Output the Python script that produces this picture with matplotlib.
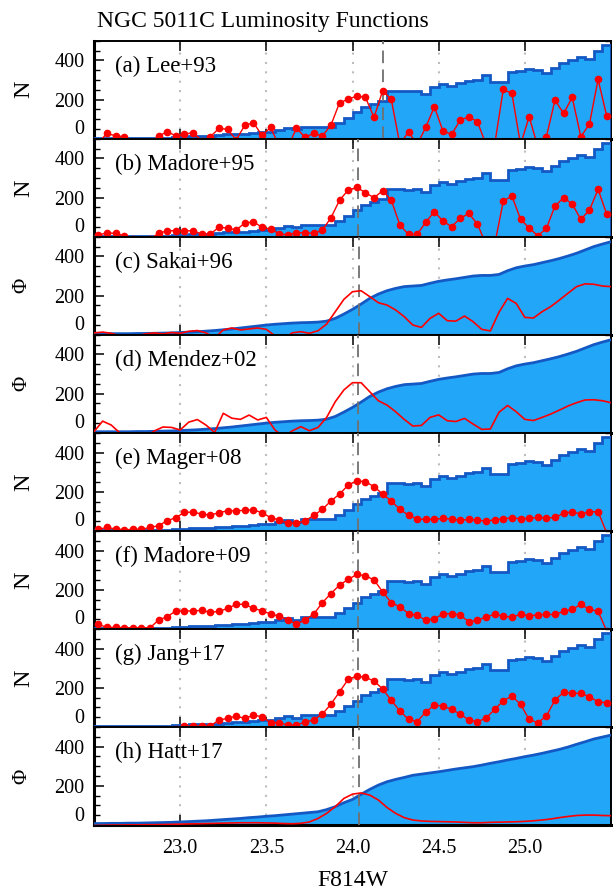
import numpy as np
import matplotlib
matplotlib.use("Agg")
import matplotlib.pyplot as plt
from matplotlib.ticker import MultipleLocator

plt.rcParams['font.family'] = ['Liberation Serif', 'DejaVu Serif']

# histogram of F814W (0.05 mag bins, left edges from 22.50)
hist_lo = 22.50
hist_w = 0.05
hist_n = [3, 5, 5, 3, 3, 3, 3, 3, 5, 8,
          10, 15, 15, 15, 18, 22, 25, 25, 30, 35,
          36, 45, 55, 48, 61, 61, 61, 62, 81, 107,
          135, 161, 178, 192, 246, 245, 241, 246, 229, 263,
          280, 268, 282, 297, 302, 323, 289, 289, 341, 348,
          357, 353, 336, 362, 387, 404, 416, 408, 450, 480]

# smoothed luminosity functions, sampled every 0.05 mag from 22.50 to 25.50
phi_sakai = [6, 6, 6, 6, 6, 7, 7, 8, 9, 10,
             12, 14, 16, 19, 22, 26, 30, 35, 40, 45,
             50, 54, 57, 60, 62, 63, 65, 70, 84, 106,
             130, 157, 186, 208, 225, 237, 246, 249, 252, 263,
             273, 280, 286, 293, 300, 303, 303, 308, 327, 342,
             351, 358, 368, 378, 389, 402, 416, 433, 450, 463, 475]
phi_hatt = [8, 8, 9, 9, 10, 10, 11, 12, 13, 14,
            16, 18, 20, 22, 25, 28, 31, 34, 38, 41,
            45, 48, 52, 56, 60, 64, 68, 79, 94, 114,
            131, 157, 182, 204, 221, 233, 243, 254, 260, 266,
            272, 279, 286, 292, 298, 306, 315, 323, 332, 340,
            349, 357, 366, 376, 386, 398, 412, 425, 439, 449, 459]

# edge-detection responses on the same 0.05 mag grid
edge_sakai = [10, 14, 8, -5, -10, -5, 5, 10, 5, 12,
              8, 18, 22, 10, -15, 25, 35, 25, 30, 35,
              28, -5, -20, 10, 16, 8, 21, 55, 118, 181,
              220, 225, 195, 164, 152, 127, 93, 50, 38, 84,
              110, 72, 70, 96, 67, 28, 20, 115, 186, 160,
              89, 86, 118, 144, 177, 212, 246, 260, 258, 249, 246]
edge_mendez = [6, 60, 40, 0, -30, -30, -20, 10, 30, 28,
               15, 55, 68, 40, 2, 100, 75, 69, 91, 66,
               79, 15, -20, 10, 32, 11, 28, 79, 159, 219,
               256, 256, 210, 164, 142, 108, 69, 35, 38, 79,
               92, 62, 58, 74, 45, 18, 20, 105, 140, 108,
               69, 63, 79, 96, 116, 137, 154, 168, 169, 164, 154]
edge_hatt = [-2, -1, 0, 0, 1, 1, 2, 2, 3, 4,
             5, 6, 7, 8, 9, 10, 11, 12, 12, 12,
             11, 10, 8, 7, 9, 16, 34, 60, 94, 136,
             158, 164, 153, 128, 90, 60, 38, 26, 21, 19,
             18, 17, 16, 14, 12, 12, 14, 15, 16, 17,
             19, 22, 26, 31, 38, 44, 49, 51, 51, 49, 48]

# binned edge responses at bin centres (22.525 ... 25.475)
edge_lee = [-20, 27, 15, 10, -30, -30, -20, 14, 36, 15,
            24, 31, -10, 10, 53, 48, -5, 68, 82, 17,
            58, -40, -40, 53, 8, 27, 14, 70, 184, 201,
            218, 211, 109, 245, 201, -30, 36, -30, 58, 163,
            39, 22, 95, 112, 87, -30, -30, 252, 231, -30,
            112, -40, 10, 197, 129, 211, 10, 75, 303, 116]
edge_madore95 = [8, 21, 17, 5, -10, -20, -10, 17, 31, 31,
                 31, 31, 14, 14, 49, 44, 35, 70, 76, 49,
                 39, 15, 10, 21, 21, 17, 34, 97, 187, 238,
                 252, 225, 199, 235, 187, 60, 12, 12, 74, 128,
                 80, 52, 94, 119, 65, -40, -40, 182, 208, 90,
                 45, 5, 43, 157, 199, 167, 89, 136, 242, 116]
edge_mager = [8, 18, 10, 6, 8, 8, 18, 27, 52, 68,
              95, 96, 86, 81, 93, 103, 103, 105, 108, 93,
              68, 56, 39, 39, 52, 79, 110, 153, 188, 234,
              256, 251, 226, 188, 153, 110, 81, 61, 59, 59,
              64, 61, 54, 59, 54, 51, 56, 63, 66, 63,
              64, 69, 66, 69, 90, 98, 86, 98, 98, -10]
edge_madore09 = [24, 8, 8, 6, 6, 6, 6, 46, 63, 92,
                 92, 92, 95, 85, 90, 105, 126, 126, 105, 93,
                 76, 66, 46, 24, 47, 76, 134, 181, 224, 253,
                 278, 272, 250, 190, 134, 113, 79, 69, 46, 52,
                 76, 79, 71, 37, 44, 62, 74, 66, 59, 76,
                 66, 73, 74, 74, 90, 100, 125, 100, 90, -10]
edge_jang = [-20, -20, -20, -20, -20, -20, -20, -20, -20, -10,
             5, 5, 5, 5, 36, 44, 56, 44, 60, 53,
             22, 22, 10, 10, 26, 36, 66, 117, 180, 243,
             260, 253, 235, 194, 136, 82, 39, 27, 77, 112,
             107, 90, 66, 36, 27, 46, 90, 134, 158, 116,
             39, 22, 56, 138, 177, 172, 172, 155, 128, 124]

panel_labels = ['(a) Lee+93', '(b) Madore+95', '(c) Sakai+96', '(d) Mendez+02',
                '(e) Mager+08', '(f) Madore+09', '(g) Jang+17', '(h) Hatt+17']
panel_kind = ['N', 'N', 'Phi', 'Phi', 'N', 'N', 'N', 'Phi']
panel_edge = [edge_lee, edge_madore95, edge_sakai, edge_mendez,
              edge_mager, edge_madore09, edge_jang, edge_hatt]
panel_phi = [None, None, phi_sakai, phi_sakai, None, None, None, phi_hatt]
trgb = [24.175, 24.03, 24.035, 24.03, 24.03, 24.03, 24.03, 24.04]
guide_x = [23.0, 23.5, 24.0, 24.5, 25.0]

edges = hist_lo + hist_w * np.arange(len(hist_n) + 1)
centres = edges[:-1] + hist_w / 2
grid = hist_lo + hist_w * np.arange(len(phi_sakai))

fill_c = '#22a6f8'
line_c = '#1458c4'

W, H = 613, 891
fig = plt.figure(figsize=(W / 100, H / 100), dpi=100)
left, right = 94, 611
top = 40.7
ph = 98.05

for i in range(8):
    y0 = top + i * ph
    ax = fig.add_axes([left / W, 1 - (y0 + ph) / H, (right - left) / W, ph / H])
    ax.set_xlim(22.5, 25.5)
    ax.set_ylim(0, 500)

    for gx in guide_x:
        ax.axvline(gx, color='#bdbdbd', ls=(0, (1, 3.5)), lw=1.5, zorder=1)

    if panel_kind[i] == 'N':
        ax.stairs(hist_n, edges, fill=True, color=fill_c, zorder=2)
        ax.stairs(hist_n, edges, color=line_c, lw=2, zorder=3)
        ax.plot(centres, panel_edge[i], color='red', lw=1, marker='o', ms=4.5,
                zorder=6)
    else:
        ax.fill_between(grid, panel_phi[i], 0, color=fill_c, lw=0, zorder=2)
        ax.plot(grid, panel_phi[i], color=line_c, lw=2, zorder=3)
        ax.plot(grid, panel_edge[i], color='red', lw=1.2, zorder=6)

    ax.axvline(trgb[i], color='#707070', lw=1.3, ls=(0, (7, 3.5)), zorder=5)

    ax.set_xticks(guide_x)
    ax.set_yticks([0, 200, 400])
    ax.yaxis.set_minor_locator(MultipleLocator(50))
    ax.set_yticklabels(['', '200', '400'])
    ax.tick_params(axis='both', which='both', direction='in', top=True, right=True)
    ax.tick_params(which='major', length=7, width=1.1, labelsize=14.5)
    ax.tick_params(axis='y', which='major', pad=7)
    ax.tick_params(axis='y', which='minor', length=4, width=1.0)
    ax.tick_params(axis='x', pad=10, labelbottom=(i == 7))
    ax.annotate('0', xy=(0, 0), xycoords=ax.get_yaxis_transform(),
                xytext=(-7, 6.5), textcoords='offset points',
                ha='right', va='center', fontsize=14.5)

    for s in ['left', 'bottom']:
        ax.spines[s].set_linewidth(2.2)
    for s in ['top', 'right']:
        ax.spines[s].set_linewidth(1.4)

    ax.text(0.04, 0.685, panel_labels[i], transform=ax.transAxes,
            fontsize=16.5, va='baseline', ha='left')
    if panel_kind[i] == 'N':
        ax.text(-0.135, 0.5, 'N', transform=ax.transAxes, rotation=90,
                ha='center', va='center', fontsize=17.5)
    else:
        ax.text(-0.14, 0.5, 'Φ', transform=ax.transAxes, rotation=90,
                ha='center', va='center', fontsize=15)

fig.text(97 / W, 1 - 26.7 / H, 'NGC 5011C Luminosity Functions', fontsize=17,
         ha='left', va='baseline')
fig.text(352.5 / W, 1 - 886 / H, 'F814W', fontsize=17, ha='center', va='baseline')

fig.savefig('out.png', dpi=100)
